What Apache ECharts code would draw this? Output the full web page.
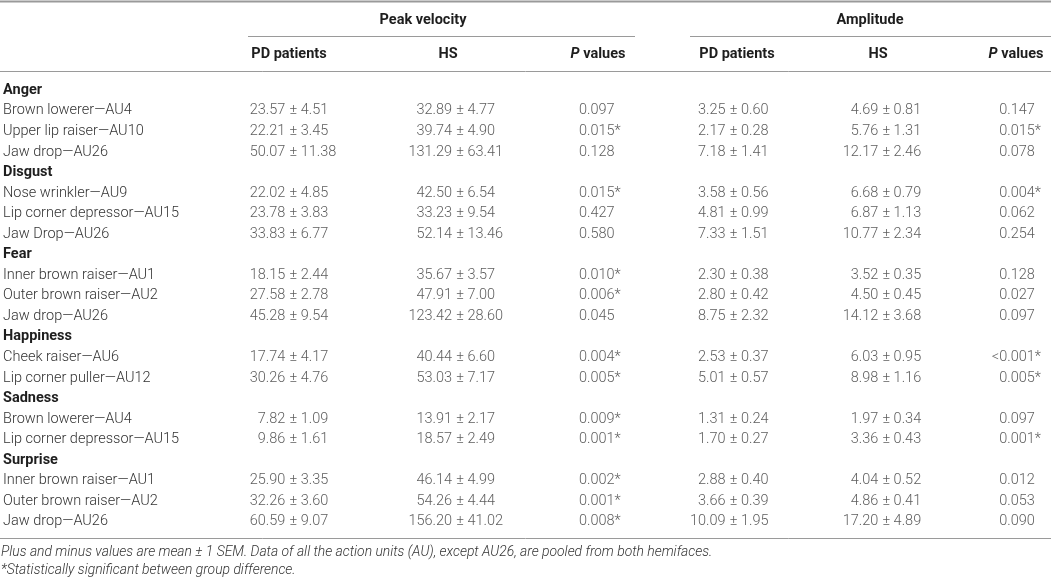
<!DOCTYPE html>
<html>
<head>
<meta charset="utf-8">
<title>Peak velocity and amplitude by action unit</title>
<script src="https://cdn.jsdelivr.net/npm/echarts@6.0.0/dist/echarts.min.js"></script>
<style>
  html, body { margin: 0; padding: 0; background: #fff; }
  #chart { width: 1051px; height: 580px; }
</style>
</head>
<body>
<div id="chart"></div>
<script>
// emotion groups and how many action units sit under each
const groups = ['Anger', 'Disgust', 'Fear', 'Happiness', 'Sadness', 'Surprise'];
const groupSizes = [3, 3, 3, 2, 2, 3];

const units = [
  'Brown lowerer—AU4', 'Upper lip raiser—AU10', 'Jaw drop—AU26',
  'Nose wrinkler—AU9', 'Lip corner depressor—AU15', 'Jaw Drop—AU26',
  'Inner brown raiser—AU1', 'Outer brown raiser—AU2', 'Jaw drop—AU26',
  'Cheek raiser—AU6', 'Lip corner puller—AU12',
  'Brown lowerer—AU4', 'Lip corner depressor—AU15',
  'Inner brown raiser—AU1', 'Outer brown raiser—AU2', 'Jaw drop—AU26'
];

// peak velocity
const pdPeakMean = [23.57, 22.21, 50.07, 22.02, 23.78, 33.83, 18.15, 27.58, 45.28, 17.74, 30.26, 7.82, 9.86, 25.90, 32.26, 60.59];
const pdPeakSem  = [4.51, 3.45, 11.38, 4.85, 3.83, 6.77, 2.44, 2.78, 9.54, 4.17, 4.76, 1.09, 1.61, 3.35, 3.60, 9.07];
const hsPeakMean = [32.89, 39.74, 131.29, 42.50, 33.23, 52.14, 35.67, 47.91, 123.42, 40.44, 53.03, 13.91, 18.57, 46.14, 54.26, 156.20];
const hsPeakSem  = [4.77, 4.90, 63.41, 6.54, 9.54, 13.46, 3.57, 7.00, 28.60, 6.60, 7.17, 2.17, 2.49, 4.99, 4.44, 41.02];
const pPeak = ['0.097', '0.015*', '0.128', '0.015*', '0.427', '0.580', '0.010*', '0.006*', '0.045', '0.004*', '0.005*', '0.009*', '0.001*', '0.002*', '0.001*', '0.008*'];

// amplitude
const pdAmpMean = [3.25, 2.17, 7.18, 3.58, 4.81, 7.33, 2.30, 2.80, 8.75, 2.53, 5.01, 1.31, 1.70, 2.88, 3.66, 10.09];
const pdAmpSem  = [0.60, 0.28, 1.41, 0.56, 0.99, 1.51, 0.38, 0.42, 2.32, 0.37, 0.57, 0.24, 0.27, 0.40, 0.39, 1.95];
const hsAmpMean = [4.69, 5.76, 12.17, 6.68, 6.87, 10.77, 3.52, 4.50, 14.12, 6.03, 8.98, 1.97, 3.36, 4.04, 4.86, 17.20];
const hsAmpSem  = [0.81, 1.31, 2.46, 0.79, 1.13, 2.34, 0.35, 0.45, 3.68, 0.95, 1.16, 0.34, 0.43, 0.52, 0.41, 4.89];
const pAmp = ['0.147', '0.015*', '0.078', '0.004*', '0.062', '0.254', '0.128', '0.027', '0.097', '<0.001*', '0.005*', '0.097', '0.001*', '0.012', '0.053', '0.090'];

const footnotes = [
  'Plus and minus values are mean ± 1 SEM. Data of all the action units (AU), except AU26, are pooled from both hemifaces.',
  '*Statistically significant between group difference.'
];

// layout: x anchor of every column (the ± sign / decimal start)
const COL = { pdPeak: 286, hsPeak: 453, pPeak: 578, pdAmp: 727, hsAmp: 880, pAmp: 999 };
const FONT = 'Roboto, "Liberation Sans", sans-serif';
const TEXT = '#333';
const HEAD = '#1e1e1e';
const RULE = '#9a9a9a';

// build row list: group header row followed by its units
const rowLabels = [];
const isGroup = [];
const unitRow = [];
let u = 0;
groups.forEach((g, gi) => {
  rowLabels.push(g);
  isGroup.push(true);
  for (let k = 0; k < groupSizes[gi]; k++) {
    unitRow.push(rowLabels.length);
    rowLabels.push(units[u]);
    isGroup.push(false);
    u++;
  }
});

const labelBase = { fontFamily: FONT, fontSize: 14.5, fontWeight: 300, color: TEXT };

function cellSeries(x, texts, side, gap) {
  return {
    type: 'scatter',
    silent: true,
    symbolSize: 0.1,
    itemStyle: { color: 'transparent' },
    data: texts.map((t, i) => ({ name: t, value: [x, unitRow[i]] })),
    label: Object.assign({
      show: true,
      position: side,
      distance: gap,
      formatter: '{b}'
    }, labelBase)
  };
}

// mean ± sem cell, aligned on the ± sign
function pmColumn(x, means, sems) {
  return [
    cellSeries(x, means.map(v => v.toFixed(2)), 'left', 2),
    cellSeries(x, sems.map(v => '± ' + v.toFixed(2)), 'right', 2)
  ];
}

// p value cell, aligned on the first digit so "<" hangs to the left
function pColumn(x, vals) {
  const pre = vals.map(s => s.match(/^\D*/)[0]);
  const rest = vals.map(s => s.replace(/^\D*/, ''));
  return [
    cellSeries(x, pre, 'left', 0),
    cellSeries(x, rest, 'right', 0)
  ];
}

const series = [].concat(
  pmColumn(COL.pdPeak, pdPeakMean, pdPeakSem),
  pmColumn(COL.hsPeak, hsPeakMean, hsPeakSem),
  pColumn(COL.pPeak, pPeak),
  pmColumn(COL.pdAmp, pdAmpMean, pdAmpSem),
  pmColumn(COL.hsAmp, hsAmpMean, hsAmpSem),
  pColumn(COL.pAmp, pAmp)
);

function head(text, x, y, align) {
  return {
    type: 'text',
    silent: true,
    style: {
      text: text, x: x, y: y,
      textAlign: align || 'center',
      textVerticalAlign: 'middle',
      fontFamily: FONT, fontSize: 14.5, fontWeight: 'bold', fill: HEAD,
      rich: { i: { fontFamily: FONT, fontSize: 14.5, fontWeight: 'bold', fontStyle: 'italic', fill: HEAD } }
    }
  };
}

function rule(x1, x2, y, w) {
  return {
    type: 'line',
    silent: true,
    shape: { x1: x1, y1: y, x2: x2, y2: y },
    style: { stroke: RULE, lineWidth: w || 1 }
  };
}

const graphic = [
  rule(0, 1051, 1.5, 2),
  head('Peak velocity', 423, 20),
  head('Amplitude', 870, 20),
  rule(248, 635, 36.5),
  rule(690, 1051, 36.5),
  head('PD patients', 289, 54),
  head('HS', 448, 54),
  head('{i|P} values', 598, 54),
  head('PD patients', 737, 54),
  head('HS', 878, 54),
  head('{i|P} values', 1016, 54),
  rule(0, 1051, 71.5),
  rule(0, 1051, 538.5)
].concat(footnotes.map((t, i) => ({
  type: 'text',
  silent: true,
  style: {
    text: t, x: 1, y: 553 + i * 18,
    textAlign: 'left', textVerticalAlign: 'middle',
    fontFamily: FONT, fontSize: 13.9, fontWeight: 300, fontStyle: 'italic', fill: TEXT
  }
})));

const chart = echarts.init(document.getElementById('chart'));
chart.setOption({
  animation: false,
  backgroundColor: '#fff',
  grid: { left: 0, right: 0, top: 80, bottom: 48 },
  xAxis: { type: 'value', min: 0, max: 1051, show: false },
  yAxis: {
    type: 'category',
    inverse: true,
    data: rowLabels,
    axisLine: { show: false },
    axisTick: { show: false },
    splitLine: { show: false },
    axisLabel: {
      inside: true,
      margin: 1,
      interval: 0,
      formatter: (v, i) => (isGroup[i] ? '{g|' + v + '}' : '{d|' + v + '}'),
      rich: {
        g: { fontFamily: FONT, fontSize: 14.5, fontWeight: 'bold', color: HEAD },
        d: labelBase
      }
    }
  },
  graphic: graphic,
  series: series
});
</script>
</body>
</html>
